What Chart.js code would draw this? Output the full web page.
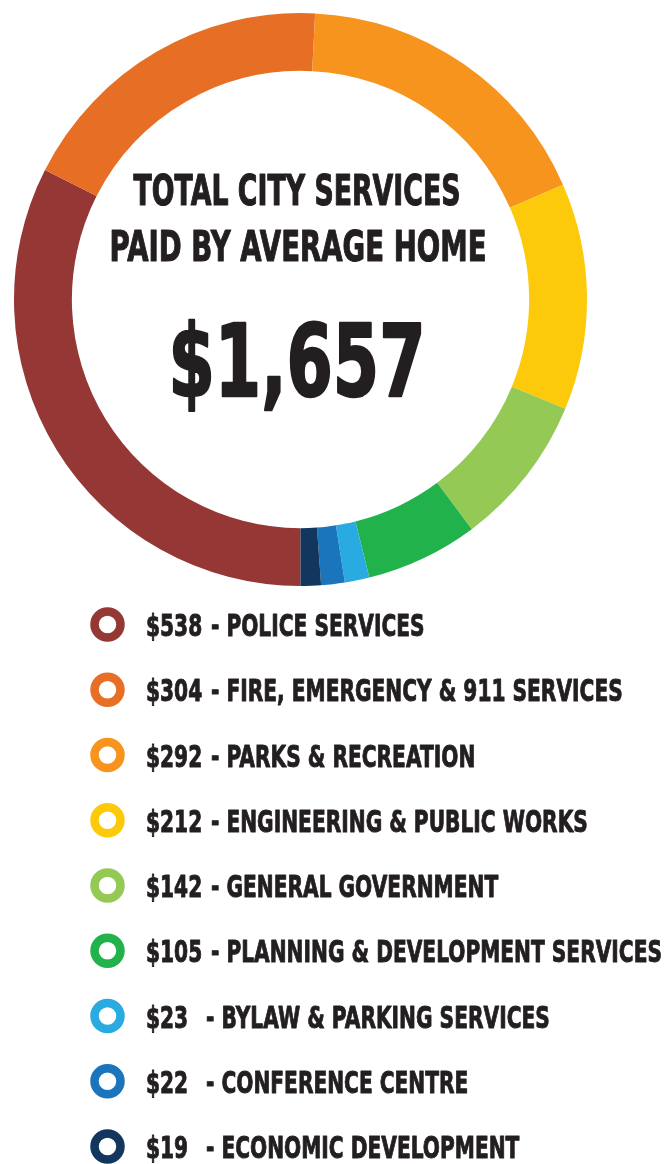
<!DOCTYPE html>
<html>
<head>
<meta charset="utf-8">
<script src="https://cdn.jsdelivr.net/npm/chart.js@4.4.1/dist/chart.umd.min.js"></script>
<style>
  html, body { margin: 0; padding: 0; background: #fff; }
  body { width: 665px; height: 1164px; overflow: hidden; }
  #chart-box { position: relative; width: 665px; height: 1164px; }
</style>
</head>
<body>
<div id="chart-box"><canvas id="services-chart"></canvas></div>
<script>
// Spending per average home, clockwise from the bottom of the ring
const services = ['POLICE SERVICES', 'FIRE, EMERGENCY & 911 SERVICES', 'PARKS & RECREATION',
    'ENGINEERING & PUBLIC WORKS', 'GENERAL GOVERNMENT', 'PLANNING & DEVELOPMENT SERVICES',
    'BYLAW & PARKING SERVICES', 'CONFERENCE CENTRE', 'ECONOMIC DEVELOPMENT'];
const amounts = [538, 304, 292, 212, 142, 105, 23, 22, 19];
const colors = ['#953735', '#e76f25', '#f7941d', '#fdca0b', '#93c954', '#21b24b', '#29abe2', '#1b75bc', '#13365e'];
const titleLines = ['TOTAL CITY SERVICES', 'PAID BY AVERAGE HOME'];
const totalLabel = '$1,657';

const FONT = '"Liberation Sans Narrow", "DejaVu Sans", sans-serif';
const INK = '#231f20';

// fill + thin stroke so the squeezed face looks as heavy as the original
function heavyText(ctx, text, weight) {
    ctx.fillText(text, 0, 0);
    ctx.lineWidth = weight;
    ctx.strokeText(text, 0, 0);
}

// draw text squeezed to a given width (the original uses a condensed face)
function fitText(ctx, text, x, y, size, width, weight) {
    ctx.font = 'bold ' + size + 'px ' + FONT;
    const w = ctx.measureText(text).width;
    ctx.save();
    ctx.translate(x, y);
    ctx.scale(width / w, 1);
    heavyText(ctx, text, weight);
    ctx.restore();
}

const centerText = {
    id: 'centerText',
    afterDraw(chart) {
        const ctx = chart.ctx;
        ctx.save();
        ctx.fillStyle = INK;
        ctx.strokeStyle = INK;
        ctx.lineJoin = 'round';
        ctx.textAlign = 'center';
        ctx.textBaseline = 'alphabetic';
        fitText(ctx, titleLines[0], 297, 205, 42, 327, 1.2);
        fitText(ctx, titleLines[1], 298, 261, 42, 377, 1.2);
        fitText(ctx, totalLabel, 297, 396, 100, 257, 2.5);
        ctx.restore();
    }
};

// ring markers + "$amount - NAME" rows under the doughnut
const listLegend = {
    id: 'listLegend',
    afterDraw(chart) {
        const ctx = chart.ctx;
        const ds = chart.data.datasets[0];
        const size = 31;
        ctx.save();
        ctx.font = 'bold ' + size + 'px ' + FONT;
        ctx.lineJoin = 'round';
        // one squeeze factor for all rows, set by the longest row
        const k = 451 / ctx.measureText('- ' + services[5]).width;
        chart.data.labels.forEach((name, i) => {
            const cy = 624.5 + i * 65.25;
            ctx.beginPath();
            ctx.arc(107.5, cy, 13, 0, Math.PI * 2);
            ctx.lineWidth = 8.5;
            ctx.strokeStyle = ds.backgroundColor[i];
            ctx.stroke();

            ctx.fillStyle = INK;
            ctx.strokeStyle = INK;
            ctx.textAlign = 'left';
            ctx.textBaseline = 'alphabetic';
            const base = cy + 11.5;
            ctx.save();
            ctx.translate(146, base);
            ctx.scale(k, 1);
            heavyText(ctx, '$' + ds.data[i], 1);
            ctx.restore();
            ctx.save();
            ctx.translate(ds.data[i] >= 100 ? 211 : 206, base);
            ctx.scale(k, 1);
            heavyText(ctx, '- ' + name, 1);
            ctx.restore();
        });
        ctx.restore();
    }
};

function initChart() {
    const canvas = document.getElementById('services-chart');
    new Chart(canvas.getContext('2d'), {
        type: 'doughnut',
        data: {
            labels: services,
            datasets: [{
                data: amounts,
                backgroundColor: colors,
                borderWidth: 0
            }]
        },
        options: {
            responsive: true,
            maintainAspectRatio: false,
            animation: false,
            rotation: 180,
            cutout: '79.8%',
            layout: { padding: { left: 14, right: 78, top: 13, bottom: 578 } },
            plugins: {
                legend: { display: false },
                tooltip: { enabled: false }
            }
        },
        plugins: [centerText, listLegend]
    });
}

initChart();
</script>
</body>
</html>
